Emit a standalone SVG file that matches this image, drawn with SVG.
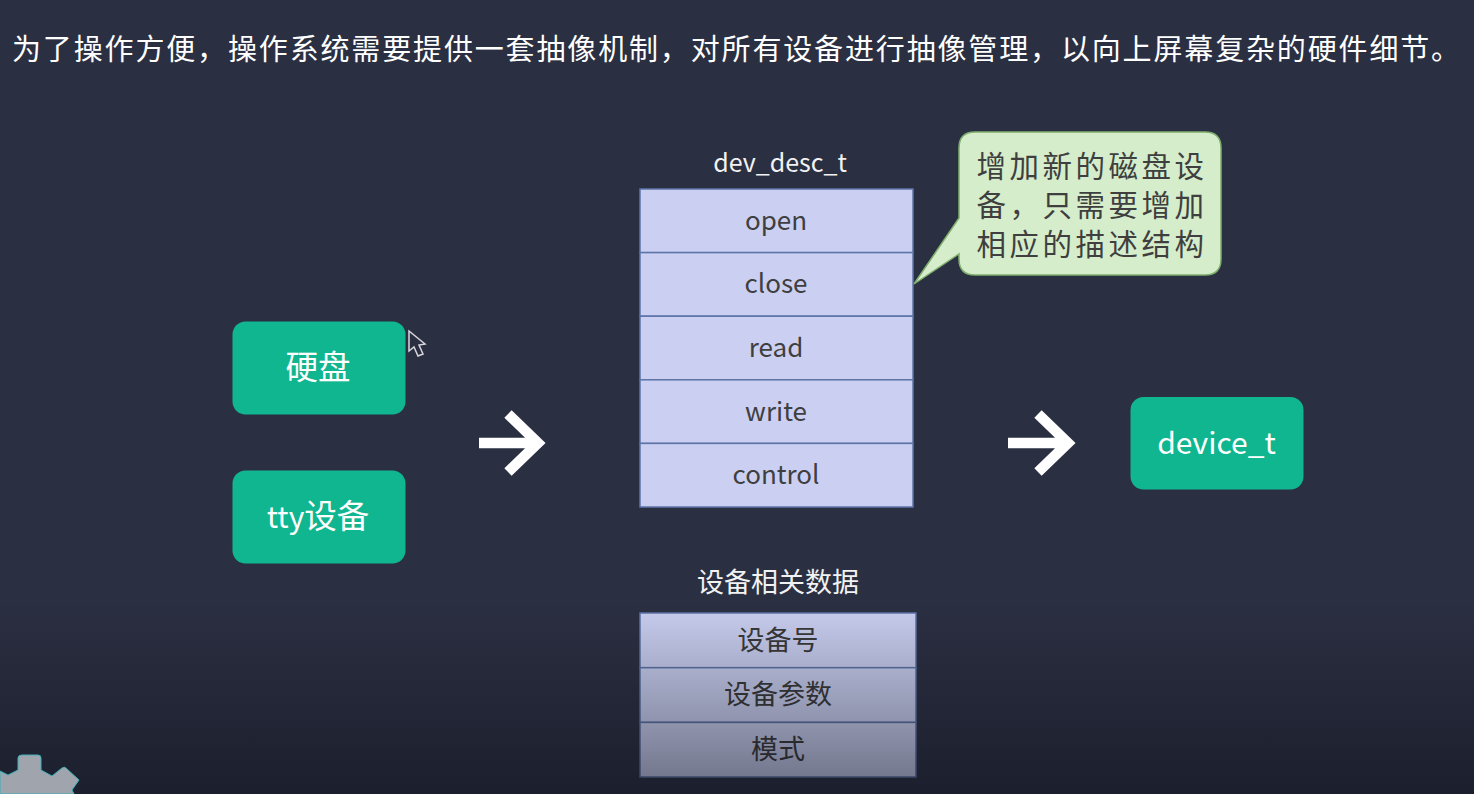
<svg xmlns="http://www.w3.org/2000/svg" width="1474" height="794" viewBox="0 0 1474 794">
<style>
text{font-family:"Noto Sans CJK SC","Noto Sans",sans-serif;text-anchor:middle}
.green{fill:#10b68f}
.gt{fill:#fff;font-size:32.500px}
.gl{fill:#fff;font-size:30px}
.cell{fill:#cbd0f2;stroke:#5d74a8;stroke-width:1.5}
.ct{fill:#3f3f3f;font-size:26px}
.cz{fill:#3a3a3a;font-size:27px}
.lbl{fill:#f2f2f2;font-size:25px}
.lz{fill:#f2f2f2;font-size:27px}
.arrow{fill:none;stroke:#fff;stroke-width:10.500}
.bt{fill:#3f3f3f;font-size:29.500px;letter-spacing:3.500px}
</style>
<defs>
<linearGradient id="fade" x1="0" y1="0" x2="0" y2="1">
<stop offset="0" stop-color="#0d0f17" stop-opacity="0"/>
<stop offset="1" stop-color="#0d0f17" stop-opacity=".5"/>
</linearGradient>
</defs>
<rect id="bg" width="1474" height="794" fill="#2b2f42"/>
<text id="title" x="12" y="60" style="text-anchor:start;font-size:29px;letter-spacing:1.850px" fill="#fff">为了操作方便，操作系统需要提供一套抽像机制，对所有设备进行抽像管理，以向上屏幕复杂的硬件细节。</text>
<g id="node-disk"><rect class="green" x="232.500" y="321.500" width="173" height="93" rx="13"/><text class="gt" x="318" y="379">硬盘</text></g>
<g id="node-tty"><rect class="green" x="232.500" y="470.500" width="173" height="93" rx="13"/><text class="gt" x="318" y="528"><tspan class="gl">tty</tspan>设备</text></g>
<g id="node-device"><rect class="green" x="1130.500" y="397" width="173" height="92.500" rx="13"/><text class="gl" x="1216.500" y="454">device_t</text></g>
<g id="connectors">
<path class="arrow" d="M479 443H538M508 414L538 443L508 472"/>
<path class="arrow" d="M1008 443H1068M1038 414L1068 443L1038 472"/>
</g>
<g id="node-dev-desc">
<text class="lbl" x="780" y="172">dev_desc_t</text>
<rect class="cell" x="640" y="189" width="273" height="63.600"/><text class="ct" x="776" y="230">open</text>
<rect class="cell" x="640" y="252.600" width="273" height="63.600"/><text class="ct" x="776" y="293">close</text>
<rect class="cell" x="640" y="316.200" width="273" height="63.600"/><text class="ct" x="776" y="357">read</text>
<rect class="cell" x="640" y="379.800" width="273" height="63.600"/><text class="ct" x="776" y="421">write</text>
<rect class="cell" x="640" y="443.400" width="273" height="63.600"/><text class="ct" x="776" y="484">control</text>
</g>
<g id="node-data">
<text class="lz" x="778" y="592">设备相关数据</text>
<rect class="cell" x="640" y="613" width="276" height="54.700"/><text class="cz" x="778" y="650">设备号</text>
<rect class="cell" x="640" y="667.700" width="276" height="54.700"/><text class="cz" x="778" y="704">设备参数</text>
<rect class="cell" x="640" y="722.400" width="276" height="54.600"/><text class="cz" x="778" y="759">模式</text>
</g>
<g id="node-callout">
<path d="M914 284L959 218V148Q959 132 975 132H1205Q1221 132 1221 148V259Q1221 275 1205 275H975Q959 275 959 259V254Z" fill="#d5edcb" stroke="#7fae6d" stroke-width="1.500"/>
<text class="bt" x="1092" y="177">增加新的磁盘设</text>
<text class="bt" x="1092" y="216">备，只需要增加</text>
<text class="bt" x="1092" y="255">相应的描述结构</text>
</g>
<path id="cursor" d="M409 331V351L414 347L418 356L423 354L419 345L425 344Z" fill="#2b2f42" stroke="#d8d8dc" stroke-width="1.500"/>
<rect id="shade" y="600" width="1474" height="194" fill="url(#fade)"/>
<g id="gear"><path d="M0 771L8 775L18 770V758Q18 755 22 755H38Q41 755 41 758V770L52 776L62 768Q65 766 67 769L79 780L72 790L74 794H0Z" fill="#a0a4ac" stroke="#3fb0b8" stroke-width="1"/></g>
</svg>
